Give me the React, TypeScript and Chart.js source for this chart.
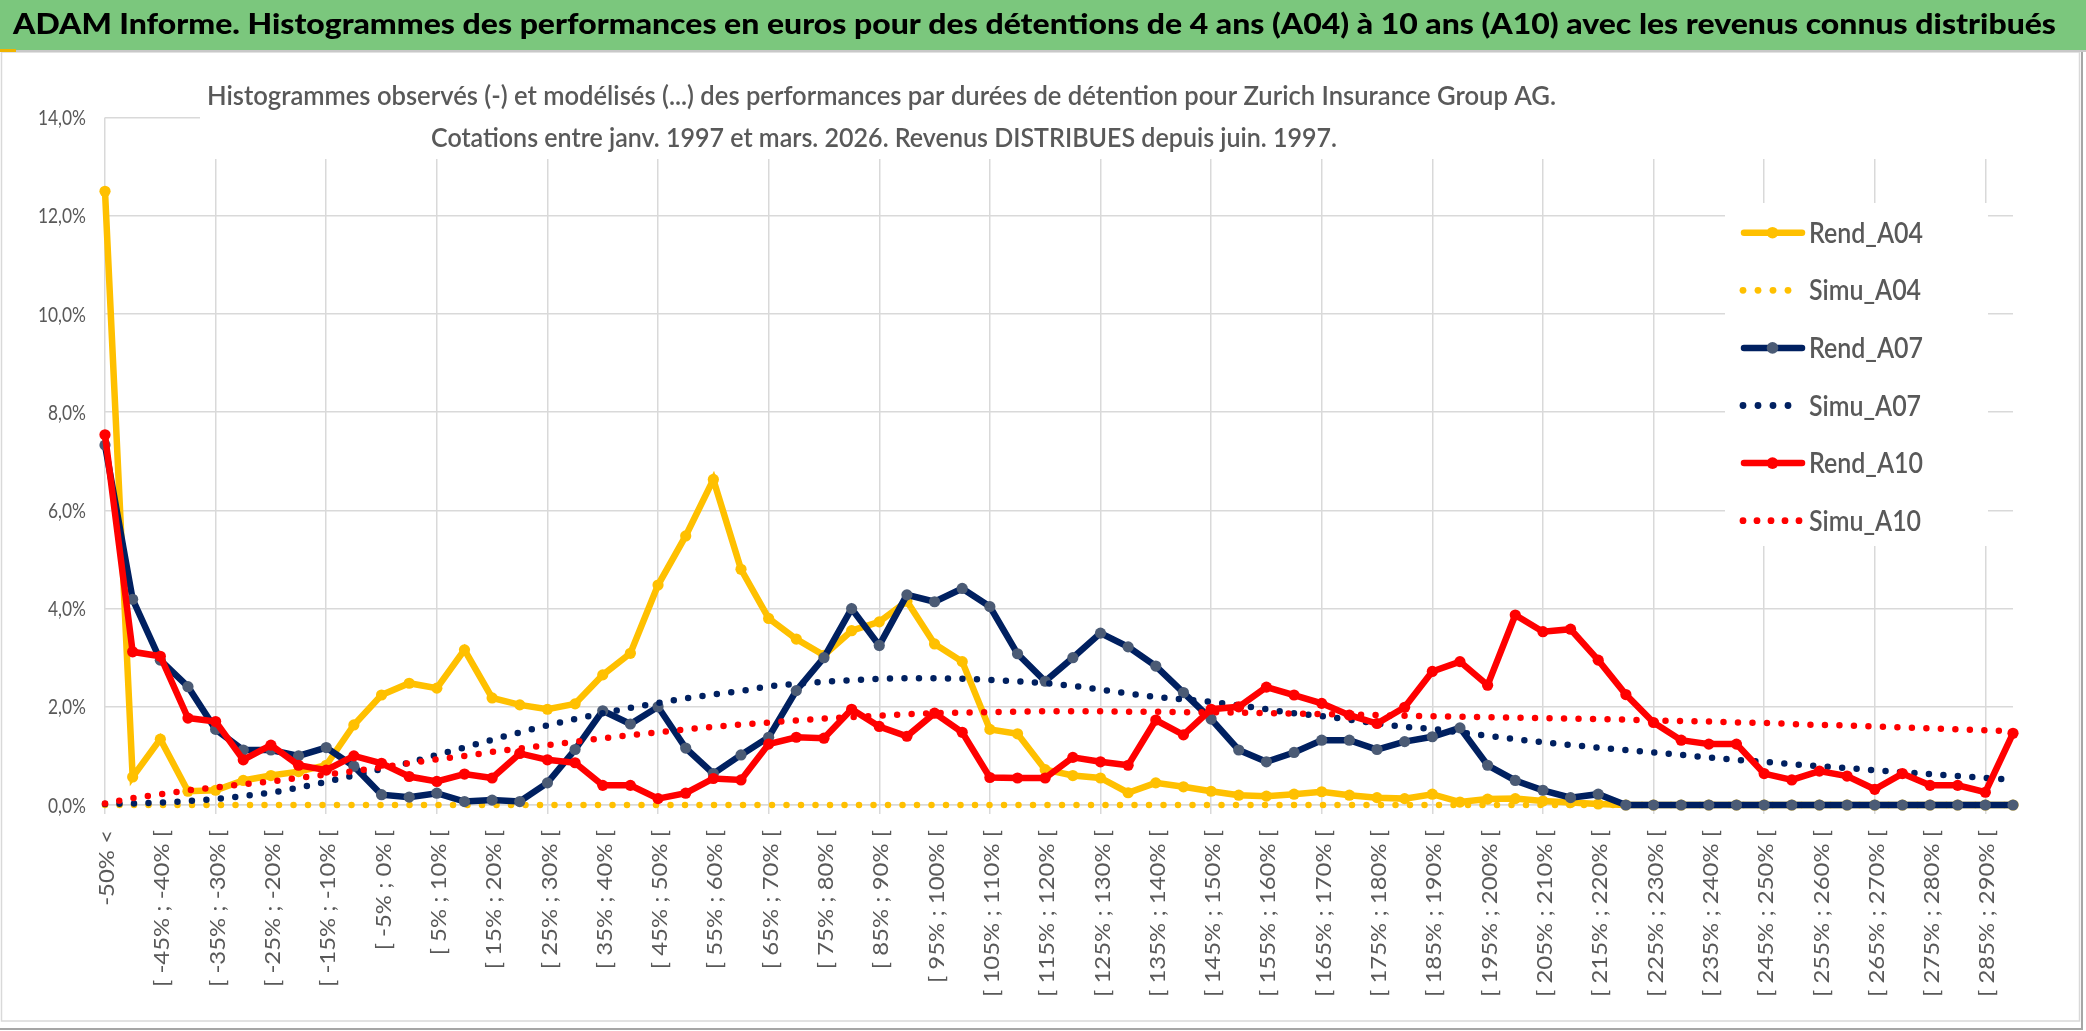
import React, { useEffect, useRef } from "react";
import { Chart, registerables } from "chart.js";

Chart.register(...registerables);

// ---------- DATA ----------
const categories: string[] = [
  "-50% <",
  "[ -50% ; -45% [", "[ -45% ; -40% [", "[ -40% ; -35% [", "[ -35% ; -30% [", "[ -30% ; -25% [",
  "[ -25% ; -20% [", "[ -20% ; -15% [", "[ -15% ; -10% [", "[ -10% ; -5% [", "[ -5% ; 0% [",
  "[ 0% ; 5% [", "[ 5% ; 10% [", "[ 10% ; 15% [", "[ 15% ; 20% [", "[ 20% ; 25% [",
  "[ 25% ; 30% [", "[ 30% ; 35% [", "[ 35% ; 40% [", "[ 40% ; 45% [", "[ 45% ; 50% [",
  "[ 50% ; 55% [", "[ 55% ; 60% [", "[ 60% ; 65% [", "[ 65% ; 70% [", "[ 70% ; 75% [",
  "[ 75% ; 80% [", "[ 80% ; 85% [", "[ 85% ; 90% [", "[ 90% ; 95% [", "[ 95% ; 100% [",
  "[ 100% ; 105% [", "[ 105% ; 110% [", "[ 110% ; 115% [", "[ 115% ; 120% [", "[ 120% ; 125% [",
  "[ 125% ; 130% [", "[ 130% ; 135% [", "[ 135% ; 140% [", "[ 140% ; 145% [", "[ 145% ; 150% [",
  "[ 150% ; 155% [", "[ 155% ; 160% [", "[ 160% ; 165% [", "[ 165% ; 170% [", "[ 170% ; 175% [",
  "[ 175% ; 180% [", "[ 180% ; 185% [", "[ 185% ; 190% [", "[ 190% ; 195% [", "[ 195% ; 200% [",
  "[ 200% ; 205% [", "[ 205% ; 210% [", "[ 210% ; 215% [", "[ 215% ; 220% [", "[ 220% ; 225% [",
  "[ 225% ; 230% [", "[ 230% ; 235% [", "[ 235% ; 240% [", "[ 240% ; 245% [", "[ 245% ; 250% [",
  "[ 250% ; 255% [", "[ 255% ; 260% [", "[ 260% ; 265% [", "[ 265% ; 270% [", "[ 270% ; 275% [",
  "[ 275% ; 280% [", "[ 280% ; 285% [", "[ 285% ; 290% [", "[ 290% ; 295% [",
];

const yTickValues: number[] = [0, 2, 4, 6, 8, 10, 12, 14];
const yTickLabels: string[] = ["0,0%", "2,0%", "4,0%", "6,0%", "8,0%", "10,0%", "12,0%", "14,0%"];

const seriesNames: string[] = ["Rend_A04", "Simu_A04", "Rend_A07", "Simu_A07", "Rend_A10", "Simu_A10"];

const rendA04: number[] = [
  12.5, 0.57, 1.34, 0.28, 0.3, 0.5, 0.6, 0.68, 0.81, 1.63,
  2.24, 2.48, 2.38, 3.16, 2.18, 2.04, 1.95, 2.06, 2.65, 3.09,
  4.48, 5.48, 6.63, 4.8, 3.8, 3.38, 3.05, 3.55, 3.73, 4.15,
  3.28, 2.92, 1.54, 1.45, 0.72, 0.6, 0.55, 0.25, 0.45, 0.37,
  0.28, 0.2, 0.18, 0.22, 0.27, 0.2, 0.15, 0.13, 0.22, 0.06,
  0.12, 0.13, 0.08, 0.05, 0.02, 0, 0, 0, 0, 0,
  0, 0, 0, 0, 0, 0, 0, 0, 0, 0,
];
const simuA04: number[] = [
  0, 0, 0, 0, 0, 0, 0, 0, 0, 0,
  0, 0, 0, 0, 0, 0, 0, 0, 0, 0,
  0, 0, 0, 0, 0, 0, 0, 0, 0, 0,
  0, 0, 0, 0, 0, 0, 0, 0, 0, 0,
  0, 0, 0, 0, 0, 0, 0, 0, 0, 0,
  0, 0, 0, 0, 0, 0, 0, 0, 0, 0,
  0, 0, 0, 0, 0, 0, 0, 0, 0, 0,
];
const rendA07: number[] = [
  7.33, 4.19, 2.95, 2.41, 1.54, 1.12, 1.12, 1.0, 1.17, 0.79,
  0.21, 0.16, 0.24, 0.07, 0.1, 0.07, 0.45, 1.13, 1.92, 1.65,
  2.0, 1.16, 0.64, 1.02, 1.38, 2.33, 3.0, 4.0, 3.25, 4.28,
  4.14, 4.41, 4.04, 3.08, 2.52, 3.0, 3.5, 3.22, 2.83, 2.29,
  1.75, 1.12, 0.88, 1.07, 1.32, 1.32, 1.13, 1.29, 1.39, 1.57,
  0.81, 0.5, 0.3, 0.15, 0.22, 0, 0, 0, 0, 0,
  0, 0, 0, 0, 0, 0, 0, 0, 0, 0,
];
const simuA07: number[] = [
  0.02, 0.03, 0.05, 0.08, 0.12, 0.18, 0.25, 0.35, 0.47, 0.6,
  0.73, 0.86, 1.02, 1.17, 1.33, 1.48, 1.62, 1.75, 1.87, 1.98,
  2.08, 2.17, 2.25, 2.32, 2.42, 2.47, 2.51, 2.54, 2.57, 2.58,
  2.58, 2.57, 2.55, 2.52, 2.48, 2.43, 2.35, 2.27, 2.2, 2.15,
  2.1, 2.03, 1.95, 1.87, 1.81, 1.74, 1.66, 1.59, 1.55, 1.48,
  1.41, 1.34, 1.28, 1.22, 1.17, 1.12, 1.07, 1.02, 0.97, 0.92,
  0.88, 0.83, 0.79, 0.75, 0.71, 0.67, 0.63, 0.59, 0.55, 0.51,
];
const rendA10: number[] = [
  7.54, 3.12, 3.03, 1.77, 1.7, 0.92, 1.22, 0.81, 0.71, 1.0,
  0.85, 0.58, 0.48, 0.63, 0.55, 1.05, 0.92, 0.86, 0.4, 0.4,
  0.13, 0.24, 0.54, 0.51, 1.24, 1.38, 1.36, 1.95, 1.6, 1.4,
  1.87, 1.48, 0.56, 0.55, 0.55, 0.97, 0.88, 0.81, 1.73, 1.43,
  1.95, 2.0, 2.4, 2.24, 2.07, 1.83, 1.66, 1.99, 2.72, 2.92,
  2.44, 3.87, 3.53, 3.58, 2.95, 2.25, 1.68, 1.32, 1.24, 1.24,
  0.64, 0.51, 0.69, 0.59, 0.32, 0.64, 0.4, 0.4, 0.26, 1.46,
];
const simuA10: number[] = [
  0.03, 0.14, 0.22, 0.3, 0.36, 0.42, 0.48, 0.55, 0.62, 0.69,
  0.77, 0.85, 0.93, 1.0, 1.08, 1.15, 1.22, 1.29, 1.36, 1.42,
  1.48, 1.54, 1.59, 1.64, 1.68, 1.72, 1.76, 1.79, 1.82, 1.85,
  1.87, 1.88, 1.89, 1.9, 1.91, 1.91, 1.91, 1.9, 1.9, 1.89,
  1.89, 1.88, 1.87, 1.86, 1.85, 1.84, 1.83, 1.82, 1.81, 1.8,
  1.79, 1.78, 1.77, 1.76, 1.75, 1.74, 1.72, 1.71, 1.7, 1.68,
  1.67, 1.65, 1.63, 1.62, 1.6, 1.58, 1.56, 1.54, 1.52, 1.5,
];

const TITLE =
  "ADAM Informe. Histogrammes des performances en euros pour des détentions de 4 ans (A04) à 10 ans (A10) avec les revenus connus distribués";
const SUBTITLE_1 =
  "Histogrammes observés (-) et modélisés (...) des performances par durées de détention pour Zurich Insurance Group AG.";
const SUBTITLE_2 =
  "Cotations entre janv. 1997 et mars. 2026. Revenus DISTRIBUES depuis juin. 1997.";

// ---------- STYLE ----------
const W = 2086;
const H = 1031;
const FONT = "Lato, 'Open Sans', 'Noto Sans', sans-serif";
const GRID = "#D9D9D9";
const TEXT = "#595959";
const YELLOW = "#FFC000";
const NAVY = "#002060";
const NAVY_MARK = "#4B5B75";
const RED = "#FF0000";

const legendStyles = [
  { color: YELLOW, mark: YELLOW, dotted: false, dots: 0 },
  { color: YELLOW, mark: YELLOW, dotted: true, dots: 4 },
  { color: NAVY, mark: NAVY_MARK, dotted: false, dots: 0 },
  { color: NAVY, mark: NAVY_MARK, dotted: true, dots: 4 },
  { color: RED, mark: RED, dotted: false, dots: 0 },
  { color: RED, mark: RED, dotted: true, dots: 5 },
];

function fitText(
  ctx: CanvasRenderingContext2D,
  text: string,
  x: number,
  y: number,
  font: string,
  width: number,
  align: CanvasTextAlign,
  color: string
) {
  ctx.save();
  ctx.font = font;
  ctx.fillStyle = color;
  ctx.textBaseline = "alphabetic";
  const w = ctx.measureText(text).width;
  const s = width / w;
  ctx.translate(x, y);
  ctx.scale(s, 1);
  ctx.textAlign = align;
  ctx.fillText(text, 0, 0);
  ctx.restore();
}

const decorPlugin = {
  id: "decor",
  beforeDraw(chart: any) {
    const ctx: CanvasRenderingContext2D = chart.ctx;
    ctx.save();
    ctx.fillStyle = "#FFFFFF";
    ctx.fillRect(0, 0, W, H);
    // outer chart frame
    ctx.strokeStyle = GRID;
    ctx.lineWidth = 1.5;
    ctx.strokeRect(1.5, 52, 2078, 969);
    ctx.strokeStyle = "#A6A6A6";
    ctx.lineWidth = 2;
    ctx.beginPath();
    ctx.moveTo(2082, 50);
    ctx.lineTo(2082, 1029);
    ctx.lineTo(0, 1029);
    ctx.stroke();
    // green header band
    ctx.fillStyle = "#7BC77D";
    ctx.fillRect(0, 0, W, 50);
    ctx.fillStyle = "#C8C8C8";
    ctx.fillRect(0, 50, W, 2);
    ctx.fillStyle = "#F0B400";
    ctx.fillRect(0, 49, 16, 3);
    ctx.restore();
  },
  beforeDatasetsDraw(chart: any) {
    const ctx: CanvasRenderingContext2D = chart.ctx;
    ctx.save();
    ctx.fillStyle = "#FFFFFF";
    // subtitle box
    ctx.fillRect(200, 110, 1830, 49);
    // legend box
    ctx.fillRect(1725, 203, 263, 343);
    ctx.restore();
  },
  afterDraw(chart: any) {
    const ctx: CanvasRenderingContext2D = chart.ctx;
    const xs = chart.scales.x;
    const ys = chart.scales.y;

    // title
    fitText(ctx, TITLE, 13, 34, `900 28px ${FONT}`, 2043, "left", "#000000");
    // subtitles
    fitText(ctx, SUBTITLE_1, 207, 105, `600 27px ${FONT}`, 1349, "left", TEXT);
    fitText(ctx, SUBTITLE_2, 431, 147, `600 27px ${FONT}`, 906, "left", TEXT);

    // y tick labels
    ctx.save();
    ctx.font = `21px ${FONT}`;
    const ys_s = 48 / ctx.measureText("10,0%").width;
    ctx.fillStyle = TEXT;
    ctx.textAlign = "right";
    ctx.textBaseline = "alphabetic";
    yTickValues.forEach((v, i) => {
      const y = ys.getPixelForValue(v);
      ctx.save();
      ctx.translate(86, y + 7.5);
      ctx.scale(ys_s, 1);
      ctx.fillText(yTickLabels[i], 0, 0);
      ctx.restore();
    });
    ctx.restore();

    // x tick labels (rotated)
    ctx.save();
    ctx.font = `22px ${FONT}`;
    const xs_s = 157 / ctx.measureText("[ -45% ; -40% [").width;
    ctx.fillStyle = TEXT;
    ctx.textAlign = "right";
    ctx.textBaseline = "middle";
    categories.forEach((lab, i) => {
      if (i % 2 !== 0) return;
      const x = xs.getPixelForTick(i);
      ctx.save();
      ctx.translate(x + 2, 830);
      ctx.rotate(-Math.PI / 2);
      ctx.scale(xs_s, 1);
      ctx.fillText(lab, 0, 0);
      ctx.restore();
    });
    ctx.restore();

    // legend
    ctx.save();
    ctx.font = `600 28px ${FONT}`;
    const lg_s = 114 / ctx.measureText("Rend_A04").width;
    seriesNames.forEach((name, i) => {
      const st = legendStyles[i];
      const y = 232.7 + i * 57.6;
      if (!st.dotted) {
        ctx.strokeStyle = st.color;
        ctx.lineWidth = 6.5;
        ctx.lineCap = "round";
        ctx.beginPath();
        ctx.moveTo(1744, y);
        ctx.lineTo(1802, y);
        ctx.stroke();
        ctx.fillStyle = st.mark;
        ctx.beginPath();
        ctx.arc(1772.5, y, 5.8, 0, Math.PI * 2);
        ctx.fill();
      } else {
        ctx.fillStyle = st.color;
        const step = st.dots === 5 ? 14 : 15;
        for (let k = 0; k < st.dots; k++) {
          ctx.beginPath();
          ctx.arc(1743 + k * step, y, 3.4, 0, Math.PI * 2);
          ctx.fill();
        }
      }
      ctx.save();
      ctx.fillStyle = TEXT;
      ctx.textAlign = "left";
      ctx.textBaseline = "alphabetic";
      ctx.translate(1809, y + 10);
      ctx.scale(lg_s, 1);
      ctx.fillText(name, 0, 0);
      ctx.restore();
    });
    ctx.restore();
  },
};

export default function App() {
  const canvasRef = useRef<HTMLCanvasElement | null>(null);

  useEffect(() => {
    if (!canvasRef.current) return;
    const rend = (label: string, data: number[], color: string, mark: string, order: number) => ({
      label,
      data,
      borderColor: color,
      backgroundColor: color,
      borderWidth: 6.5,
      pointRadius: 5.6,
      pointBackgroundColor: mark,
      pointBorderColor: mark,
      pointBorderWidth: 0,
      tension: 0,
      clip: false as any,
      order,
    });
    const simu = (label: string, data: number[], color: string, order: number) => ({
      label,
      data,
      borderColor: color,
      backgroundColor: color,
      borderWidth: 6.5,
      borderDash: [0, 14.5],
      borderCapStyle: "round" as CanvasLineCap,
      pointRadius: 0,
      tension: 0,
      clip: false as any,
      order,
    });

    const chart = new Chart(canvasRef.current, {
      type: "line",
      data: {
        labels: categories,
        datasets: [
          rend(seriesNames[0], rendA04, YELLOW, YELLOW, 5),
          simu(seriesNames[1], simuA04, YELLOW, 4),
          rend(seriesNames[2], rendA07, NAVY, NAVY_MARK, 3),
          simu(seriesNames[3], simuA07, NAVY, 2),
          rend(seriesNames[4], rendA10, RED, RED, 1),
          simu(seriesNames[5], simuA10, RED, 0),
        ] as any,
      },
      options: {
        responsive: false,
        animation: false,
        events: [],
        layout: { padding: { top: 117.6, right: 73, left: 0, bottom: 0 } },
        plugins: {
          legend: { display: false },
          tooltip: { enabled: false },
          title: { display: false },
        },
        scales: {
          x: {
            type: "category",
            offset: false,
            ticks: { display: false, autoSkip: false },
            grid: {
              color: (c: any) => (c.index % 4 === 0 ? GRID : "rgba(0,0,0,0)"),
              lineWidth: 1.5,
              drawTicks: true,
              tickLength: 9,
              offset: false,
            },
            border: { display: true, color: GRID, width: 1.5 },
            afterFit: (s: any) => {
              s.height = H - 805;
            },
          },
          y: {
            min: 0,
            max: 14,
            ticks: { display: false, stepSize: 2 },
            grid: { color: GRID, lineWidth: 1.5, drawTicks: false },
            border: { display: false },
            afterFit: (s: any) => {
              s.width = 105;
            },
          },
        },
      },
      plugins: [decorPlugin],
    });
    return () => chart.destroy();
  }, []);

  return (
    <div style={{ position: "fixed", left: 0, top: 0, width: W, height: H, background: "#fff" }}>
      <canvas ref={canvasRef} width={W} height={H} style={{ display: "block" }} />
    </div>
  );
}
